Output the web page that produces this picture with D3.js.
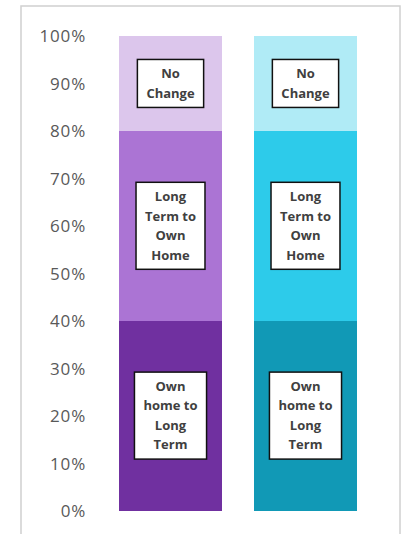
<!DOCTYPE html>
<html>
<head>
<meta charset="utf-8">
<script src="https://cdn.jsdelivr.net/npm/d3@7"></script>
<style>
  body { margin: 0; background: #fff; }
</style>
</head>
<body>
<div id="chart"></div>
<script>
var svgWidth = 409;
var svgHeight = 534;

// two stacked bars, three segments each (bottom to top)
var categories = ["Bar A", "Bar B"];
var seriesNames = ["Own home to Long Term", "Long Term to Own Home", "No Change"];
var seriesLabels = [["Own", "home to", "Long", "Term"], ["Long", "Term to", "Own", "Home"], ["No", "Change"]];
var ownToLong = [40, 40];
var longToOwn = [40, 40];
var noChange = [20, 20];
var yTicks = [0, 10, 20, 30, 40, 50, 60, 70, 80, 90, 100];

var colors = [
  ["#7030a0", "#ab74d4", "#dcc6ec"],
  ["#1199b6", "#2dcbea", "#b0ebf6"]
];

var svg = d3.select("#chart")
  .append("svg")
  .attr("width", svgWidth)
  .attr("height", svgHeight);

// light frame around the chart area
svg.append("rect")
  .attr("x", 21)
  .attr("y", 6)
  .attr("width", 379)
  .attr("height", 560)
  .attr("fill", "none")
  .attr("stroke", "#d0d0d0")
  .attr("stroke-width", 1.5);

var xScale = d3.scaleBand()
  .domain(categories)
  .range([86, 390])
  .paddingInner(0.237)
  .paddingOuter(0.2445);

var yScale = d3.scaleLinear()
  .domain([0, 100])
  .range([510.5, 36]);

// y axis, labels only
var yAxis = svg.append("g")
  .attr("transform", "translate(86, 0)")
  .call(d3.axisLeft(yScale).tickValues(yTicks).tickSize(0).tickPadding(0).tickFormat(d => d + "%"));
yAxis.select(".domain").remove();
yAxis.selectAll("text")
  .attr("font-family", "Open Sans, sans-serif")
  .attr("font-size", 17)
  .attr("letter-spacing", 0.8)
  .attr("fill", "#595959")
  .attr("dy", "0.35em");

var series = [ownToLong, longToOwn, noChange];
var stacked = categories.map(function(c, i) {
  var y0 = 0;
  return series.map(function(s, j) {
    var seg = { cat: c, idx: i, j: j, y0: y0, y1: y0 + s[i], label: seriesLabels[j] };
    y0 += s[i];
    return seg;
  });
});
var segments = [].concat.apply([], stacked);

svg.append("g").selectAll("rect")
  .data(segments)
  .enter()
  .append("rect")
  .attr("x", d => xScale(d.cat))
  .attr("y", d => Math.round(yScale(d.y1)))
  .attr("width", xScale.bandwidth())
  .attr("height", d => Math.round(yScale(d.y0)) - Math.round(yScale(d.y1)))
  .attr("shape-rendering", "crispEdges")
  .attr("fill", d => colors[d.idx][d.j]);

// data labels in white boxes
var lineH = 19.5;
var labels = svg.append("g").selectAll("g")
  .data(segments)
  .enter()
  .append("g")
  .attr("transform", d => `translate(${xScale(d.cat) + xScale.bandwidth() / 2}, ${(yScale(d.y0) + yScale(d.y1)) / 2})`);

labels.each(function(d) {
  var g = d3.select(this);
  var box = g.append("rect");
  var text = g.append("text")
    .attr("text-anchor", "middle")
    .attr("font-family", "Open Sans, sans-serif")
    .attr("font-weight", 700)
    .attr("font-size", 13)
    .attr("fill", "#404040");
  var n = d.label.length;
  d.label.forEach(function(line, k) {
    text.append("tspan")
      .attr("x", 0)
      .attr("y", (k - (n - 1) / 2) * lineH)
      .attr("dy", "0.35em")
      .text(line);
  });
  var w = 0;
  text.selectAll("tspan").each(function() { w = Math.max(w, this.getComputedTextLength()); });
  var bw = w + 18;
  var bh = n * lineH + 9;
  box.attr("x", -bw / 2)
    .attr("y", -bh / 2)
    .attr("width", bw)
    .attr("height", bh)
    .attr("fill", "#fff")
    .attr("stroke", "#111")
    .attr("stroke-width", 1.5);
});
</script>
</body>
</html>
